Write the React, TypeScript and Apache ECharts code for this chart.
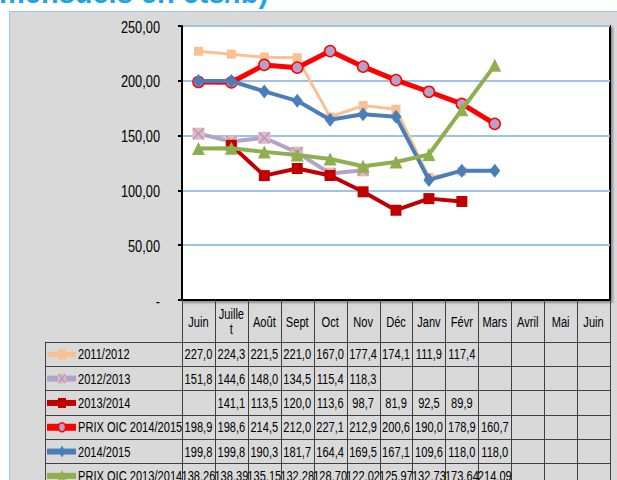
import React, { useEffect, useRef } from 'react';
import * as echarts from 'echarts';

const FONT = '"Liberation Sans", Arial, sans-serif';
const SQ = 0.74; // horizontal condensation to mimic Arial Narrow

const categories = ['Juin', 'Juillet', 'Août', 'Sept', 'Oct', 'Nov', 'Déc', 'Janv', 'Févr', 'Mars', 'Avril', 'Mai', 'Juin'];
const categoryLabels = ['Juin', 'Juille\nt', 'Août', 'Sept', 'Oct', 'Nov', 'Déc', 'Janv', 'Févr', 'Mars', 'Avril', 'Mai', 'Juin'];

const s2011_2012 = [227.0, 224.3, 221.5, 221.0, 167.0, 177.4, 174.1, 111.9, 117.4, null, null, null, null];
const s2012_2013 = [151.8, 144.6, 148.0, 134.5, 115.4, 118.3, null, null, null, null, null, null, null];
const s2013_2014 = [null, 141.1, 113.5, 120.0, 113.6, 98.7, 81.9, 92.5, 89.9, null, null, null, null];
const sOic2014_2015 = [198.9, 198.6, 214.5, 212.0, 227.1, 212.9, 200.6, 190.0, 178.9, 160.7, null, null, null];
const s2014_2015 = [199.8, 199.8, 190.3, 181.7, 164.4, 169.5, 167.1, 109.6, 118.0, 118.0, null, null, null];
const sOic2013_2014 = [138.26, 138.39, 135.15, 132.28, 128.70, 122.02, 125.97, 132.73, 173.64, 214.09, null, null, null];

const seriesNames = ['2011/2012', '2012/2013', '2013/2014', 'PRIX OIC 2014/2015', '2014/2015', 'PRIX OIC 2013/2014'];
const seriesData = [s2011_2012, s2012_2013, s2013_2014, sOic2014_2015, s2014_2015, sOic2013_2014];
const seriesDecimals = [1, 1, 1, 1, 1, 2];

const yMin = 0;
const yMax = 250;
const yInterval = 50;

type Sty = {
  color: string; width: number; symbol: string; size: number | number[];
  fill: string; border?: string; borderWidth?: number;
};
const styles: Sty[] = [
  { color: '#FAC090', width: 3, symbol: 'rect', size: 9, fill: '#FAC090' },
  { color: '#B3A2C7', width: 4, symbol: 'rect', size: 12, fill: '#E6B9B8' },
  { color: '#C00000', width: 4, symbol: 'rect', size: 11, fill: '#C00000' },
  { color: '#FF0000', width: 5, symbol: 'circle', size: 11, fill: '#B3A2C7', border: '#FF0000', borderWidth: 1.5 },
  { color: '#4A7EBB', width: 4, symbol: 'diamond', size: [11, 14], fill: '#4A7EBB' },
  { color: '#8FAF4F', width: 4, symbol: 'triangle', size: [13, 13], fill: '#8FAF4F' },
];

const fmt = (v: number | null, d: number) => (v == null ? '' : v.toFixed(d).replace('.', ','));

export default function App() {
  const ref = useRef<HTMLDivElement>(null);
  useEffect(() => {
    const chart = echarts.init(ref.current!, null, { renderer: 'svg' });
    const series: any[] = seriesData.map((d, i) => {
      const s = styles[i];
      return {
        name: seriesNames[i],
        type: 'line',
        data: d,
        symbol: s.symbol,
        symbolSize: s.size,
        showAllSymbol: true,
        connectNulls: false,
        lineStyle: { color: s.color, width: s.width },
        itemStyle: { color: s.fill, borderColor: s.border || s.fill, borderWidth: s.borderWidth || 0 },
        z: 2 + i,
      };
    });
    series.splice(2, 0, {
      name: '2012/2013 x',
      type: 'line',
      data: s2012_2013,
      symbol: 'path://M0,0 L2,0 L10,8 L18,0 L20,0 L20,2 L12,10 L20,18 L20,20 L18,20 L10,12 L2,20 L0,20 L0,18 L8,10 L0,2 Z',
      symbolSize: 11,
      showAllSymbol: true,
      lineStyle: { width: 0, opacity: 0 },
      itemStyle: { color: '#A99BD0' },
      z: 3,
    });

    chart.setOption({
      animation: false,
      backgroundColor: '#FFFFFF',
      grid: {
        left: 182, right: 7, top: 26, bottom: 180,
        show: true, backgroundColor: '#FFFFFF', borderColor: '#000000', borderWidth: 2,
        shadowColor: 'rgba(0,0,0,0.35)', shadowOffsetX: 2, shadowOffsetY: 2, shadowBlur: 2,
      },
      xAxis: {
        type: 'category', data: categories, boundaryGap: true,
        axisLine: { lineStyle: { color: '#000', width: 2 } },
        axisTick: { show: false }, axisLabel: { show: false },
      },
      yAxis: {
        type: 'value', min: yMin, max: yMax, interval: yInterval,
        axisLine: { show: true, lineStyle: { color: '#000', width: 2 } },
        axisTick: { show: true, length: 4, lineStyle: { color: '#000', width: 2 } },
        axisLabel: { show: false },
        splitLine: { show: true, lineStyle: { color: '#9DC3E6', width: 2 } },
      },
      series,
    });

    const left = 182;
    const right = 610;
    const bw = (right - left) / categories.length;
    const headTop = 300;
    const rowTop = 341.7;
    const rowH = 24.3;
    const tableLeft = 45;
    const line = '#404040';
    const els: any[] = [];
    els.push({
      type: 'rect', z: -10, silent: true,
      shape: { x: 9.5, y: 11.5, width: 620, height: 480 },
      style: { fill: '#D9D9D9', stroke: '#9DC3E6', lineWidth: 1 },
    });
    els.push({
      type: 'text', z: 10, x: -1, y: 7.5,
      style: { text: 'mensuels en cts/lb)', font: 'bold 29px "Liberation Sans", Arial, sans-serif', fill: '#1FA3E8', verticalAlign: 'bottom', align: 'left' },
    });
    for (let v = yMin; v <= yMax; v += yInterval) {
      const py = chart.convertToPixel({ yAxisIndex: 0 }, v) as number;
      els.push({
        type: 'text', z: 10, x: 160, y: py + 1, scaleX: 0.8,
        style: { text: v === 0 ? '-' : v.toFixed(2).replace('.', ','), font: `16px ${FONT}`, fill: '#000', align: 'right', verticalAlign: 'middle' },
      });
    }
    for (let r = 0; r <= seriesNames.length; r++) {
      const y = Math.round(rowTop + r * rowH) + 0.5;
      els.push({ type: 'line', z: 10, shape: { x1: tableLeft, y1: y, x2: right, y2: y }, style: { stroke: line, lineWidth: 1 } });
    }
    els.push({ type: 'line', z: 10, shape: { x1: tableLeft + 0.5, y1: rowTop, x2: tableLeft + 0.5, y2: 480 }, style: { stroke: line, lineWidth: 1 } });
    for (let k = 0; k <= categories.length; k++) {
      const x = Math.round(left + k * bw) + 0.5;
      els.push({ type: 'line', z: 10, shape: { x1: x, y1: headTop, x2: x, y2: 480 }, style: { stroke: line, lineWidth: 1 } });
    }
    categoryLabels.forEach((c, i) => {
      const cx = chart.convertToPixel({ xAxisIndex: 0 }, i) as number;
      els.push({
        type: 'text', z: 11, x: cx, y: (headTop + rowTop) / 2 + 1, scaleX: SQ,
        style: { text: c, font: `15px ${FONT}`, fill: '#000', align: 'center', verticalAlign: 'middle', lineHeight: 15 },
      });
    });
    seriesData.forEach((d, r) => {
      const cy = rowTop + r * rowH + rowH / 2 + 0.5;
      const s = styles[r];
      els.push({ type: 'line', z: 11, shape: { x1: 47, y1: cy, x2: 76, y2: cy }, style: { stroke: s.color, lineWidth: s.width + 2 } });
      const mx = 62;
      if (s.symbol === 'rect') {
        els.push({ type: 'rect', z: 12, shape: { x: mx - 4, y: cy - 5, width: 8, height: 10 }, style: { fill: s.fill } });
        if (r === 1) {
          els.push({ type: 'line', z: 13, shape: { x1: mx - 3, y1: cy - 4, x2: mx + 3, y2: cy + 4 }, style: { stroke: '#A99BD0', lineWidth: 1.5 } });
          els.push({ type: 'line', z: 13, shape: { x1: mx + 3, y1: cy - 4, x2: mx - 3, y2: cy + 4 }, style: { stroke: '#A99BD0', lineWidth: 1.5 } });
        }
      } else if (s.symbol === 'circle') {
        els.push({ type: 'ellipse', z: 12, shape: { cx: mx, cy, rx: 3.5, ry: 4.5 }, style: { fill: s.fill, stroke: s.border, lineWidth: 1.5 } });
      } else if (s.symbol === 'diamond') {
        els.push({ type: 'polygon', z: 12, shape: { points: [[mx, cy - 6], [mx + 3.5, cy], [mx, cy + 6], [mx - 3.5, cy]] }, style: { fill: s.fill } });
      } else {
        els.push({ type: 'polygon', z: 12, shape: { points: [[mx, cy - 6], [mx + 4, cy + 4], [mx - 4, cy + 4]] }, style: { fill: s.fill } });
      }
      els.push({
        type: 'text', z: 11, x: 78, y: cy, scaleX: SQ,
        style: { text: seriesNames[r], font: `15px ${FONT}`, fill: '#000', align: 'left', verticalAlign: 'middle' },
      });
      d.forEach((v, i) => {
        if (v == null) return;
        const cx = chart.convertToPixel({ xAxisIndex: 0 }, i) as number;
        els.push({
          type: 'text', z: 11, x: cx, y: cy, scaleX: SQ,
          style: { text: fmt(v, seriesDecimals[r]), font: `15px ${FONT}`, fill: '#000', align: 'center', verticalAlign: 'middle' },
        });
      });
    });
    chart.setOption({ graphic: { elements: els } });
    return () => chart.dispose();
  }, []);
  return <div ref={ref} style={{ position: 'fixed', left: 0, top: 0, width: 617, height: 480 }} />;
}
